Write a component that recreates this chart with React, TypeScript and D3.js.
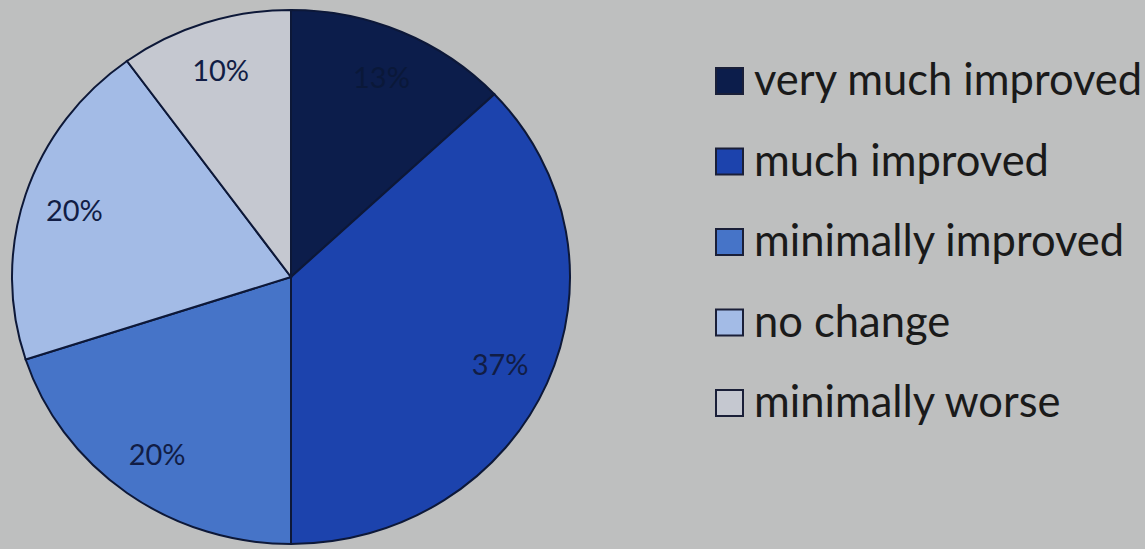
import React from "react";
import * as d3 from "d3";

const categories = ["very much improved", "much improved", "minimally improved", "no change", "minimally worse"];
const values = [13, 37, 20, 20, 10];
const labels = ["13%", "37%", "20%", "20%", "10%"];
const colors = ["#0c1d4b", "#1c43ad", "#4674c8", "#a3bbe6", "#c5c8d0"];

const W = 1145;
const H = 549;
const CX = 291;
const CY = 277;
const R = 267;
const SX = 1.045;

export default function App() {
  const pie = d3.pie<number>().sort(null).value((d) => d);
  const arcs = pie(values);
  const arc = d3.arc<d3.PieArcDatum<number>>().innerRadius(0).outerRadius(R);
  const labelArc = d3.arc<d3.PieArcDatum<number>>().innerRadius(218).outerRadius(218);

  const legendX = 715;
  const legendY0 = 67;
  const legendStep = 80.5;

  return (
    <div style={{ position: "fixed", left: 0, top: 0 }}>
      <svg width={W} height={H} style={{ display: "block", background: "#bebfbf" }}>
        <rect x={0} y={0} width={W} height={H} fill="#bebfbf" />
        <g transform={`translate(${CX},${CY}) scale(${SX},1)`}>
          {arcs.map((a, i) => (
            <path
              key={i}
              d={arc(a) || ""}
              fill={colors[i]}
              stroke="#0d1838"
              strokeWidth={2}
              vectorEffect="non-scaling-stroke"
            />
          ))}
        </g>
        <g>
          {arcs.map((a, i) => {
            const [lx, ly] = labelArc.centroid(a);
            return (
              <text
                key={i}
                x={CX + lx * SX}
                y={CY + ly}
                textAnchor="middle"
                dominantBaseline="central"
                fontFamily="Lato, 'Open Sans', sans-serif"
                fontSize={29}
                fill={i === 0 ? "#0a1838" : "#111d45"}
                opacity={i === 0 ? 0.9 : 1}
              >
                {labels[i]}
              </text>
            );
          })}
        </g>
        <g>
          {categories.map((c, i) => {
            const y = legendY0 + i * legendStep;
            return (
              <g key={c}>
                <rect
                  x={legendX + 1}
                  y={y + 1}
                  width={27}
                  height={26}
                  fill={colors[i]}
                  stroke="#1a1f38"
                  strokeWidth={2}
                />
                <text
                  x={legendX + 39}
                  y={y + 28}
                  fontFamily="Lato, 'Open Sans', sans-serif"
                  fontSize={43.5}
                  fill="#1a1a1a"
                >
                  {c}
                </text>
              </g>
            );
          })}
        </g>
      </svg>
    </div>
  );
}
